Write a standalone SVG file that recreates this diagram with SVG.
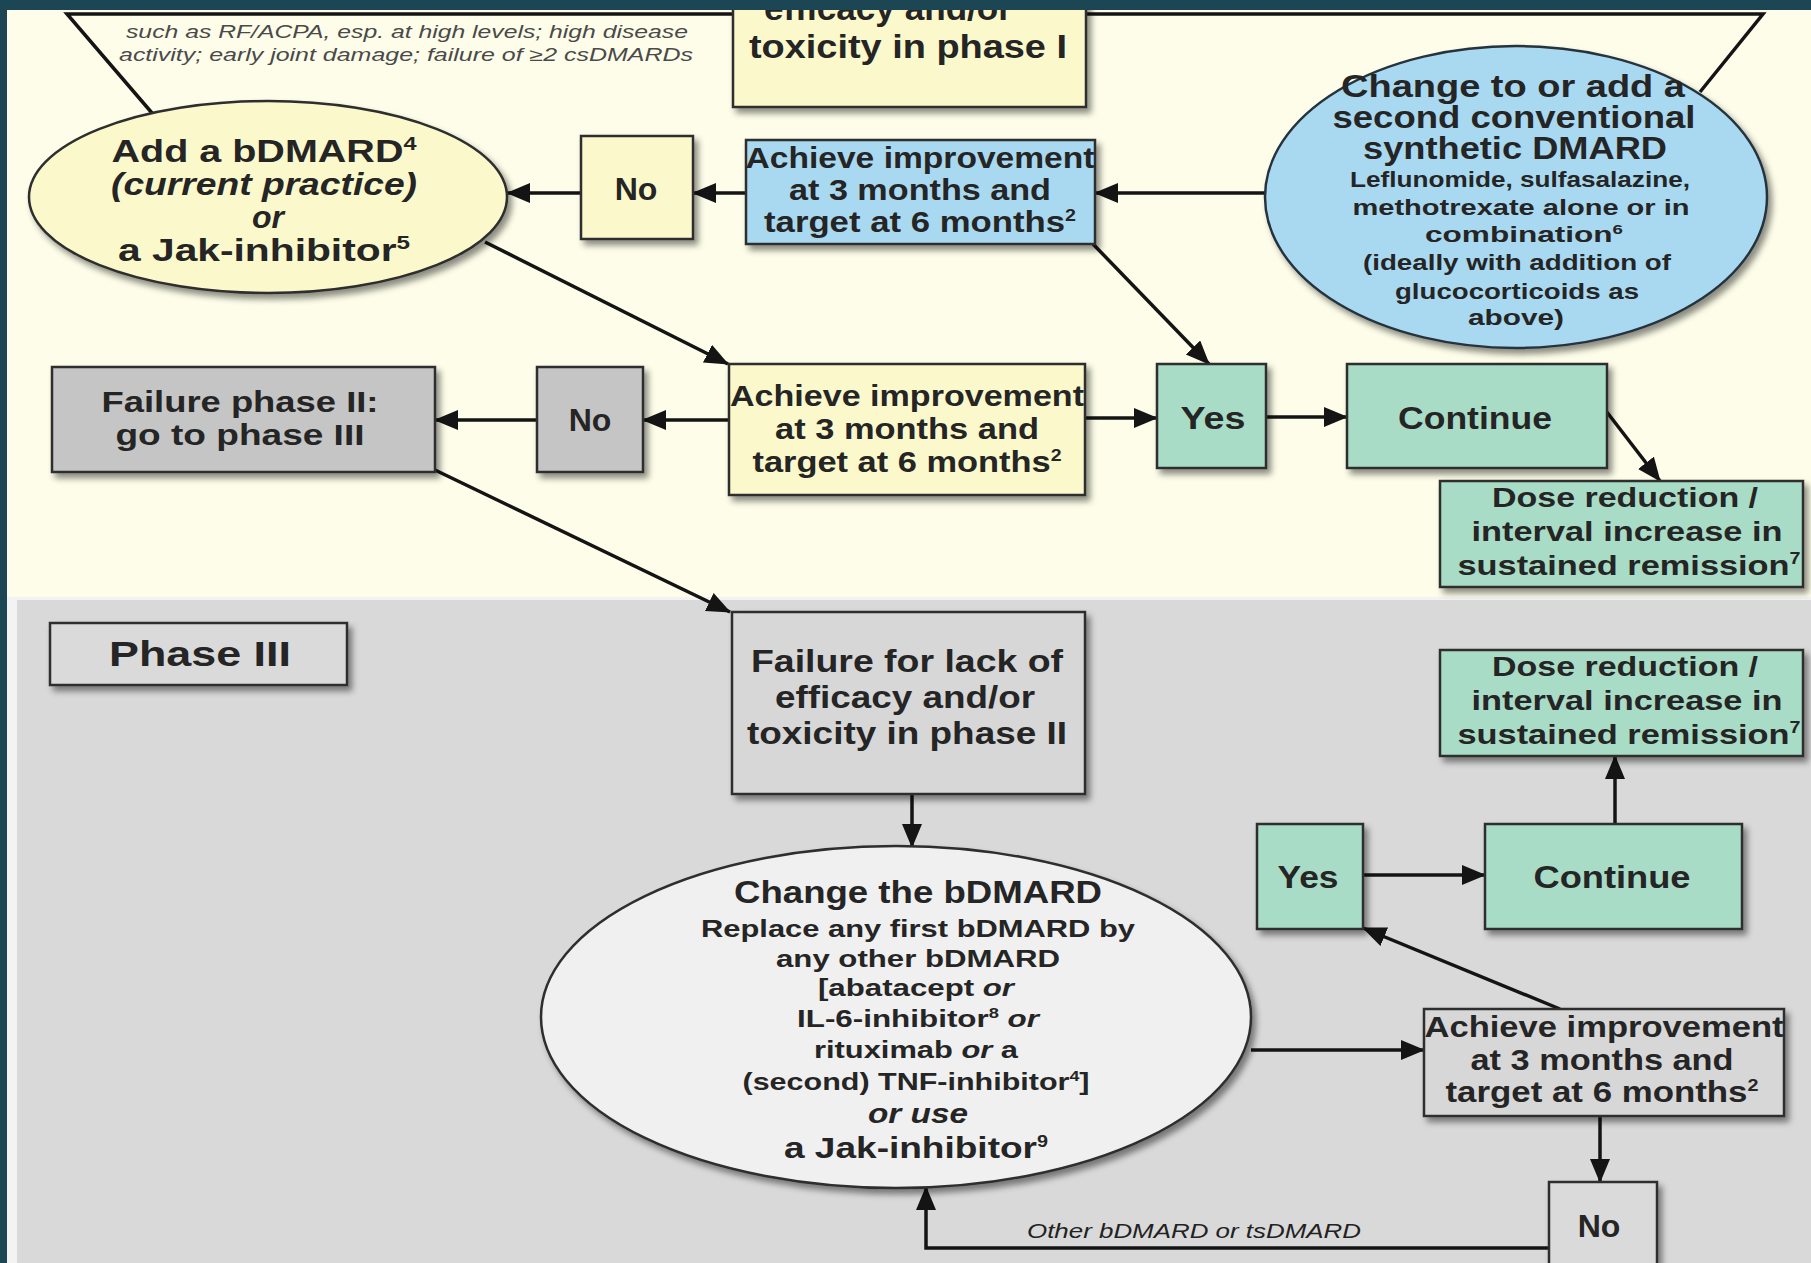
<svg xmlns="http://www.w3.org/2000/svg" width="1811" height="1263" viewBox="0 0 1811 1263">
<defs>
<style>
.t{font-family:"Liberation Sans",Arial,Helvetica,sans-serif;font-weight:bold;fill:#252525;text-anchor:middle}
.i{font-style:italic}
.note{font-family:"Liberation Sans",Arial,sans-serif;font-style:italic;fill:#4a4a4a;text-anchor:middle;font-size:18px}
.box{stroke:#2d2d2d;stroke-width:2.5}
.yel{fill:#fbf9cb}
.blu{fill:#a9d9f1}
.grn{fill:#a9dcc6}
.gr1{fill:#c5c5c5}
.gr3{fill:#d7d7d7}
.con{fill:none;stroke:#141414;stroke-width:3.5}
</style>
<filter id="sh" x="-10%" y="-10%" width="130%" height="140%">
<feDropShadow dx="4" dy="5" stdDeviation="3" flood-color="#000" flood-opacity="0.45"/>
</filter>
<marker id="ah" markerUnits="userSpaceOnUse" markerWidth="26" markerHeight="22" refX="23" refY="10" orient="auto">
<path d="M0,0 L24,10 L0,20 Z" fill="#141414"/>
</marker>
</defs>

<rect x="0" y="0" width="1811" height="1263" fill="#1c4653"/>
<rect x="7" y="10" width="1804" height="588" fill="#fdfde9"/>
<rect x="7" y="597" width="1804" height="666" fill="#f3f3f3"/>
<rect x="17" y="600" width="1794" height="663" fill="#d9d9d9"/>

<g id="phase1-outline">
<polyline class="con" points="152,113 67,14 1763,14 1700,92"/>
</g>
<g id="prognostic-note">
<text class="note" x="407" y="38" textLength="562" lengthAdjust="spacingAndGlyphs">such as RF/ACPA, esp. at high levels; high disease</text>
<text class="note" x="406" y="61" textLength="574" lengthAdjust="spacingAndGlyphs">activity; early joint damage;   failure of ≥2 csDMARDs</text>
</g>

<g id="phase1-failure">
<rect class="box yel" x="733" y="-5" width="353" height="112" filter="url(#sh)"/>
<text class="t" x="888" y="20" font-size="33" textLength="248" lengthAdjust="spacingAndGlyphs">efficacy and/or</text>
<text class="t" x="908" y="58" font-size="33" textLength="318" lengthAdjust="spacingAndGlyphs">toxicity in phase I</text>
</g>

<g id="connectors">
<line class="con" x1="1265" y1="193" x2="1095" y2="193" marker-end="url(#ah)"/>
<line class="con" x1="746" y1="193" x2="693" y2="193" marker-end="url(#ah)"/>
<line class="con" x1="581" y1="193" x2="507" y2="193" marker-end="url(#ah)"/>
<line class="con" x1="485" y1="242" x2="728" y2="364" marker-end="url(#ah)"/>
<line class="con" x1="1093" y1="244" x2="1209" y2="364" marker-end="url(#ah)"/>
<line class="con" x1="729" y1="420" x2="643" y2="420" marker-end="url(#ah)"/>
<line class="con" x1="537" y1="420" x2="435" y2="420" marker-end="url(#ah)"/>
<line class="con" x1="1085" y1="418" x2="1157" y2="418" marker-end="url(#ah)"/>
<line class="con" x1="1266" y1="417" x2="1347" y2="417" marker-end="url(#ah)"/>
<line class="con" x1="1603" y1="407" x2="1660" y2="481" marker-end="url(#ah)"/>
<line class="con" x1="435" y1="470" x2="730" y2="612" marker-end="url(#ah)"/>
<line class="con" x1="912" y1="794" x2="912" y2="847" stroke-width="3" marker-end="url(#ah)"/>
<line class="con" x1="1251" y1="1050" x2="1424" y2="1050" marker-end="url(#ah)"/>
<line class="con" x1="1560" y1="1009" x2="1363" y2="928" marker-end="url(#ah)"/>
<line class="con" x1="1363" y1="875" x2="1485" y2="875" marker-end="url(#ah)"/>
<line class="con" x1="1615" y1="824" x2="1615" y2="756" marker-end="url(#ah)"/>
<line class="con" x1="1600" y1="1116" x2="1600" y2="1182" stroke-width="3" marker-end="url(#ah)"/>
<polyline class="con" points="1549,1248 926,1248 926,1187" stroke-width="3" marker-end="url(#ah)"/>
<text class="t i" x="1194" y="1238" font-size="20" style="font-weight:normal;fill:#222" textLength="334" lengthAdjust="spacingAndGlyphs">Other bDMARD or tsDMARD</text>
</g>

<g id="add-bdmard">
<ellipse class="box yel" cx="268" cy="197" rx="239" ry="96" filter="url(#sh)"/>
<text class="t" x="264" y="162" font-size="32" textLength="305" lengthAdjust="spacingAndGlyphs">Add a bDMARD<tspan dy="-12" font-size="19">4</tspan></text>
<text class="t i" x="264" y="195" font-size="32" textLength="306" lengthAdjust="spacingAndGlyphs">(current practice)</text>
<text class="t i" x="268" y="228" font-size="32">or</text>
<text class="t" x="264" y="261" font-size="32" textLength="292" lengthAdjust="spacingAndGlyphs">a Jak-inhibitor<tspan dy="-12" font-size="19">5</tspan></text>
</g>

<g id="no-1">
<rect class="box yel" x="581" y="136" width="112" height="103" filter="url(#sh)"/>
<text class="t" x="636" y="200" font-size="32">No</text>
</g>

<g id="achieve-1">
<rect class="box blu" x="746" y="140" width="349" height="104" filter="url(#sh)"/>
<text class="t" x="920" y="168" font-size="30" textLength="349" lengthAdjust="spacingAndGlyphs">Achieve improvement</text>
<text class="t" x="920" y="200" font-size="30" textLength="262" lengthAdjust="spacingAndGlyphs">at 3 months and</text>
<text class="t" x="920" y="232" font-size="30" textLength="312" lengthAdjust="spacingAndGlyphs">target at 6 months<tspan dy="-11" font-size="17">2</tspan></text>
</g>

<g id="second-csdmard">
<ellipse class="box blu" cx="1516" cy="197" rx="251" ry="151" filter="url(#sh)" style="stroke:#25323c"/>
<text class="t" x="1513" y="97" font-size="31" textLength="344" lengthAdjust="spacingAndGlyphs">Change to or add a</text>
<text class="t" x="1514" y="128" font-size="31" textLength="363" lengthAdjust="spacingAndGlyphs">second conventional</text>
<text class="t" x="1515" y="159" font-size="31" textLength="304" lengthAdjust="spacingAndGlyphs">synthetic DMARD</text>
<text class="t" x="1520" y="187" font-size="22" textLength="340" lengthAdjust="spacingAndGlyphs">Leflunomide, sulfasalazine,</text>
<text class="t" x="1521" y="215" font-size="22" textLength="337" lengthAdjust="spacingAndGlyphs">methotrexate alone or in</text>
<text class="t" x="1524" y="242" font-size="22" textLength="198" lengthAdjust="spacingAndGlyphs">combination<tspan dy="-8" font-size="13">6</tspan></text>
<text class="t" x="1517" y="270" font-size="22" textLength="308" lengthAdjust="spacingAndGlyphs">(ideally with addition of</text>
<text class="t" x="1517" y="299" font-size="22" textLength="244" lengthAdjust="spacingAndGlyphs">glucocorticoids as</text>
<text class="t" x="1516" y="325" font-size="22" textLength="96" lengthAdjust="spacingAndGlyphs">above)</text>
</g>

<g id="failure-2">
<rect class="box gr1" x="52" y="367" width="383" height="105" filter="url(#sh)"/>
<text class="t" x="240" y="412" font-size="30" textLength="277" lengthAdjust="spacingAndGlyphs">Failure  phase II:</text>
<text class="t" x="240" y="445" font-size="30" textLength="249" lengthAdjust="spacingAndGlyphs">go to phase III</text>
</g>

<g id="no-2">
<rect class="box gr1" x="537" y="367" width="106" height="105" filter="url(#sh)"/>
<text class="t" x="590" y="431" font-size="32">No</text>
</g>

<g id="achieve-2">
<rect class="box yel" x="729" y="364" width="356" height="131" filter="url(#sh)"/>
<text class="t" x="907" y="406" font-size="30" textLength="354" lengthAdjust="spacingAndGlyphs">Achieve improvement</text>
<text class="t" x="907" y="439" font-size="30" textLength="264" lengthAdjust="spacingAndGlyphs">at 3 months and</text>
<text class="t" x="907" y="472" font-size="30" textLength="309" lengthAdjust="spacingAndGlyphs">target at 6 months<tspan dy="-11" font-size="17">2</tspan></text>
</g>

<g id="yes-1">
<rect class="box grn" x="1157" y="364" width="109" height="104" filter="url(#sh)"/>
<text class="t" x="1213" y="429" font-size="32" textLength="65" lengthAdjust="spacingAndGlyphs">Yes</text>
</g>

<g id="continue-1">
<rect class="box grn" x="1347" y="364" width="260" height="104" filter="url(#sh)"/>
<text class="t" x="1475" y="429" font-size="32" textLength="154" lengthAdjust="spacingAndGlyphs">Continue</text>
</g>

<g id="dose-1">
<rect class="box grn" x="1440" y="481" width="363" height="106" filter="url(#sh)"/>
<text class="t" x="1625" y="507" font-size="28" textLength="266" lengthAdjust="spacingAndGlyphs">Dose reduction /</text>
<text class="t" x="1627" y="541" font-size="28" textLength="311" lengthAdjust="spacingAndGlyphs">interval increase in</text>
<text class="t" x="1629" y="575" font-size="28" textLength="343" lengthAdjust="spacingAndGlyphs">sustained remission<tspan dy="-11" font-size="16">7</tspan></text>
</g>

<g id="phase3-label">
<rect class="box" x="50" y="623" width="297" height="62" fill="#dadada" filter="url(#sh)"/>
<text class="t" x="200" y="666" font-size="35" textLength="182" lengthAdjust="spacingAndGlyphs">Phase III</text>
</g>

<g id="failure-3">
<rect class="box gr3" x="732" y="612" width="353" height="182" filter="url(#sh)"/>
<text class="t" x="907" y="672" font-size="31" textLength="312" lengthAdjust="spacingAndGlyphs">Failure  for lack of</text>
<text class="t" x="905" y="708" font-size="31" textLength="260" lengthAdjust="spacingAndGlyphs">efficacy and/or</text>
<text class="t" x="907" y="744" font-size="31" textLength="320" lengthAdjust="spacingAndGlyphs">toxicity in phase II</text>
</g>

<g id="change-bdmard">
<ellipse class="box" cx="896" cy="1017" rx="355" ry="171" fill="#f0f0f0" filter="url(#sh)"/>
<text class="t" x="918" y="903" font-size="32" textLength="368" lengthAdjust="spacingAndGlyphs">Change the bDMARD</text>
<text class="t" x="918" y="937" font-size="24" textLength="434" lengthAdjust="spacingAndGlyphs">Replace any first bDMARD by</text>
<text class="t" x="918" y="967" font-size="24" textLength="284" lengthAdjust="spacingAndGlyphs">any other bDMARD</text>
<text class="t" x="916" y="996" font-size="24" textLength="196" lengthAdjust="spacingAndGlyphs">[abatacept <tspan class="i">or</tspan></text>
<text class="t" x="918" y="1027" font-size="24" textLength="242" lengthAdjust="spacingAndGlyphs">IL-6-inhibitor<tspan dy="-9" font-size="14">8</tspan><tspan dy="9" class="i"> or</tspan></text>
<text class="t" x="916" y="1058" font-size="24" textLength="204" lengthAdjust="spacingAndGlyphs">rituximab <tspan class="i">or</tspan> a</text>
<text class="t" x="916" y="1090" font-size="24" textLength="347" lengthAdjust="spacingAndGlyphs">(second) TNF-inhibitor<tspan dy="-9" font-size="14">4</tspan><tspan dy="9">]</tspan></text>
<text class="t i" x="918" y="1123" font-size="27" textLength="100" lengthAdjust="spacingAndGlyphs">or use</text>
<text class="t" x="916" y="1158" font-size="30" textLength="264" lengthAdjust="spacingAndGlyphs">a Jak-inhibitor<tspan dy="-11" font-size="16">9</tspan></text>
</g>

<g id="achieve-3">
<rect class="box gr3" x="1424" y="1009" width="360" height="107" filter="url(#sh)"/>
<text class="t" x="1604" y="1037" font-size="30" textLength="359" lengthAdjust="spacingAndGlyphs">Achieve improvement</text>
<text class="t" x="1602" y="1070" font-size="30" textLength="263" lengthAdjust="spacingAndGlyphs">at 3 months and</text>
<text class="t" x="1602" y="1102" font-size="30" textLength="313" lengthAdjust="spacingAndGlyphs">target at 6 months<tspan dy="-11" font-size="17">2</tspan></text>
</g>

<g id="yes-2">
<rect class="box grn" x="1257" y="824" width="106" height="105" filter="url(#sh)"/>
<text class="t" x="1308" y="888" font-size="32" textLength="61" lengthAdjust="spacingAndGlyphs">Yes</text>
</g>

<g id="continue-2">
<rect class="box grn" x="1485" y="824" width="257" height="105" filter="url(#sh)"/>
<text class="t" x="1612" y="888" font-size="32" textLength="157" lengthAdjust="spacingAndGlyphs">Continue</text>
</g>

<g id="dose-2">
<rect class="box grn" x="1440" y="650" width="363" height="106" filter="url(#sh)"/>
<text class="t" x="1625" y="676" font-size="28" textLength="266" lengthAdjust="spacingAndGlyphs">Dose reduction /</text>
<text class="t" x="1627" y="710" font-size="28" textLength="311" lengthAdjust="spacingAndGlyphs">interval increase in</text>
<text class="t" x="1629" y="744" font-size="28" textLength="343" lengthAdjust="spacingAndGlyphs">sustained remission<tspan dy="-11" font-size="16">7</tspan></text>
</g>

<g id="no-3">
<rect class="box" x="1549" y="1182" width="108" height="100" fill="#dadada" filter="url(#sh)"/>
<text class="t" x="1599" y="1237" font-size="32">No</text>
</g>

<rect x="0" y="0" width="1811" height="10" fill="#1c4653"/>
<rect x="0" y="0" width="7" height="1263" fill="#1c4653"/>
</svg>
